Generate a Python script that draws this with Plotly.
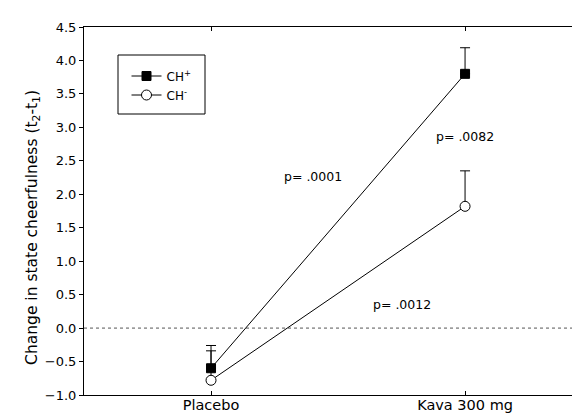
import plotly.graph_objects as go

groups = ["Placebo", "Kava 300 mg"]
ch_plus = [-0.60, 3.80]
ch_plus_err = [0.34, 0.39]
ch_minus = [-0.78, 1.82]
ch_minus_err = [0.44, 0.53]
y_ticks = [-1.0, -0.5, 0.0, 0.5, 1.0, 1.5, 2.0, 2.5, 3.0, 3.5, 4.0, 4.5]
p_labels = ["p= .0001", "p= .0082", "p= .0012"]
p_pos = [(0.40, 2.27), (1.0, 2.86), (0.75, 0.36)]

FONT = "DejaVu Sans"

fig = go.Figure()
fig.add_trace(go.Scatter(
    x=groups, y=ch_minus, mode="lines+markers", name="CH<sup>-</sup>",
    line=dict(color="black", width=1),
    marker=dict(symbol="circle", size=10, color="white", line=dict(color="black", width=1)),
    error_y=dict(type="data", array=ch_minus_err, arrayminus=[0, 0], symmetric=False,
                 color="black", thickness=1, width=5),
))
fig.add_trace(go.Scatter(
    x=groups, y=ch_plus, mode="lines+markers", name="CH<sup>+</sup>",
    line=dict(color="black", width=1),
    marker=dict(symbol="square", size=9, color="black", line=dict(color="black", width=1)),
    error_y=dict(type="data", array=ch_plus_err, arrayminus=[0, 0], symmetric=False,
                 color="black", thickness=1, width=5),
))

fig.add_shape(type="line", xref="paper", x0=0, x1=1, yref="y", y0=0, y1=0,
              line=dict(color="#555555", width=1, dash="dot"), layer="below")

# legend frame
fig.add_shape(type="rect", xref="paper", yref="paper",
              x0=(110 - 76) / 504, x1=(197 - 76) / 504,
              y0=(387 - 106) / 368, y1=(387 - 47) / 368,
              line=dict(color="black", width=1), fillcolor="white", layer="below")

for txt, (px, py) in zip(p_labels, p_pos):
    fig.add_annotation(x=px, y=py, xref="x", yref="y", text=txt, showarrow=False,
                       font=dict(family=FONT, size=12.5, color="black"))

fig.add_annotation(x=-0.125, y=0.454, xref="paper", yref="paper",
                   text="Change in state cheerfulness (t<sub>2</sub>-t<sub>1</sub>)",
                   textangle=-90, showarrow=False,
                   font=dict(family=FONT, size=15.5, color="black"))

fig.update_layout(
    width=580, height=416,
    margin=dict(l=76, r=0, t=19, b=29),
    paper_bgcolor="white", plot_bgcolor="white",
    font=dict(family=FONT, size=13, color="black"),
    showlegend=True,
    legend=dict(x=(118.5 - 76) / 504, y=(387 - 53.5) / 368, xanchor="left", yanchor="top",
                borderwidth=0, bgcolor="rgba(0,0,0,0)",
                traceorder="reversed", font=dict(family=FONT, size=12),
                tracegroupgap=0),
    xaxis=dict(range=[-0.5, 1.484], showline=True, linecolor="black", linewidth=1,
               mirror="ticks", ticks="inside", ticklen=4, tickcolor="black",
               showgrid=False, zeroline=False, ticklabelstandoff=-3,
               tickfont=dict(family=FONT, size=14.5)),
    yaxis=dict(range=[-1.0, 4.5], tickvals=y_ticks, tickformat=".1f",
               showline=True, linecolor="black", linewidth=1,
               ticks="outside", ticklen=4, tickcolor="black",
               showgrid=False, zeroline=False,
               tickfont=dict(family=FONT, size=13)),
)

fig.write_html("out.html")
